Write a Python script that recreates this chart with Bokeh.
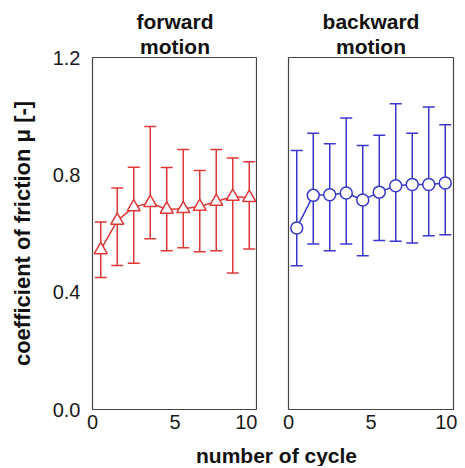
from bokeh.plotting import figure
from bokeh.models import (ColumnDataSource, Whisker, TeeHead, FixedTicker, Title,
                          Range1d, Label, PrintfTickFormatter)
from bokeh.layouts import row, column
from bokeh.embed import file_html
from bokeh.resources import INLINE

# ---- data ----
cycles = [0.5, 1.5, 2.5, 3.5, 4.5, 5.5, 6.5, 7.5, 8.5, 9.5]
fwd_mean = [0.544, 0.644, 0.690, 0.705, 0.682, 0.684, 0.692, 0.709, 0.726, 0.722]
fwd_upper = [0.639, 0.755, 0.826, 0.965, 0.825, 0.886, 0.815, 0.886, 0.857, 0.845]
fwd_lower = [0.450, 0.491, 0.499, 0.582, 0.541, 0.551, 0.538, 0.541, 0.465, 0.547]
bwd_mean = [0.619, 0.730, 0.732, 0.738, 0.714, 0.741, 0.763, 0.767, 0.767, 0.772]
bwd_upper = [0.883, 0.942, 0.906, 0.994, 0.900, 0.935, 1.042, 0.942, 1.031, 0.971]
bwd_lower = [0.490, 0.564, 0.541, 0.564, 0.524, 0.576, 0.574, 0.568, 0.592, 0.596]
y_ticks = [0.0, 0.4, 0.8, 1.2]
x_ticks = [0, 5, 10]
titles_fwd = ["forward", "motion"]
titles_bwd = ["backward", "motion"]
x_label = "number of cycle"
y_label = "coefficient of friction μ [-]"

FONT = "Liberation Sans"
RED = "#de3838"
BLUE = "#3838cc"


def make_panel(title_lines, mean, upper, lower, color, marker, width,
               border_left, border_right, show_y):
    p = figure(width=width, height=436, x_range=Range1d(0, 10),
               y_range=Range1d(0, 1.2), toolbar_location=None,
               output_backend="svg", min_border_left=border_left,
               min_border_right=border_right, min_border_top=57,
               min_border_bottom=27)
    p.title.visible = False
    # titles: first added sits closest to the frame
    for t in reversed(title_lines):
        p.add_layout(Title(text=t, align="center", text_font=FONT,
                           text_font_size="21px", text_font_style="bold",
                           text_color="#111111", standoff=0,
                           offset=0), "above")
    p.grid.visible = False
    p.outline_line_color = "#444444"
    p.outline_line_width = 1.2

    for ax in (p.xaxis[0], p.yaxis[0]):
        ax.axis_line_color = None
        ax.major_tick_line_color = None
        ax.minor_tick_line_color = None
        ax.major_tick_out = 0
        ax.major_tick_in = 0
        ax.minor_tick_out = 0
        ax.major_label_text_font = FONT
        ax.major_label_text_font_size = "20px"
        ax.major_label_text_color = "#1a1a1a"
    p.xaxis.ticker = FixedTicker(ticks=x_ticks)
    p.xaxis.formatter = PrintfTickFormatter(format="%d")
    p.xaxis.major_label_standoff = 5
    p.yaxis.ticker = FixedTicker(ticks=y_ticks)
    p.yaxis.formatter = PrintfTickFormatter(format="%.1f")
    p.yaxis.major_label_standoff = 12
    if show_y:
        p.yaxis.axis_label = y_label
        p.yaxis.axis_label_text_font = FONT
        p.yaxis.axis_label_text_font_size = "22px"
        p.yaxis.axis_label_text_font_style = "bold"
        p.yaxis.axis_label_text_color = "#111111"
        p.yaxis.axis_label_standoff = 15
    else:
        p.yaxis.visible = False

    src = ColumnDataSource(dict(x=cycles, m=mean, u=upper, l=lower))
    w = Whisker(source=src, base="x", upper="u", lower="l",
                line_color=color, line_width=1.5, level="underlay",
                upper_head=TeeHead(size=12, line_color=color, line_width=1.5),
                lower_head=TeeHead(size=12, line_color=color, line_width=1.5))
    p.add_layout(w)
    p.line("x", "m", source=src, line_color=color, line_width=1.5)
    p.scatter("x", "m", source=src, marker=marker,
              size=13 if marker == "triangle" else 12,
              fill_color="white", line_color=color, line_width=1.5)
    return p


p1 = make_panel(titles_fwd, fwd_mean, fwd_upper, fwd_lower, RED, "triangle",
                257, 92, 0, True)
p2 = make_panel(titles_bwd, bwd_mean, bwd_upper, bwd_lower, BLUE, "circle",
                200, 31, 4, False)

p3 = figure(width=457, height=30, x_range=Range1d(0, 1), y_range=Range1d(0, 1),
            toolbar_location=None, output_backend="svg", min_border=0,
            x_axis_location=None, y_axis_location=None)
p3.grid.visible = False
p3.outline_line_color = None
p3.add_layout(Label(x=276, y=11, x_units="screen", y_units="screen",
                    text=x_label, text_align="center", text_baseline="middle",
                    text_font=FONT, text_font_size="21px", text_font_style="bold",
                    text_color="#111111"))

layout = column(row(p1, p2, spacing=0), p3, spacing=0)
open("out.html", "w").write(file_html(layout, INLINE))
